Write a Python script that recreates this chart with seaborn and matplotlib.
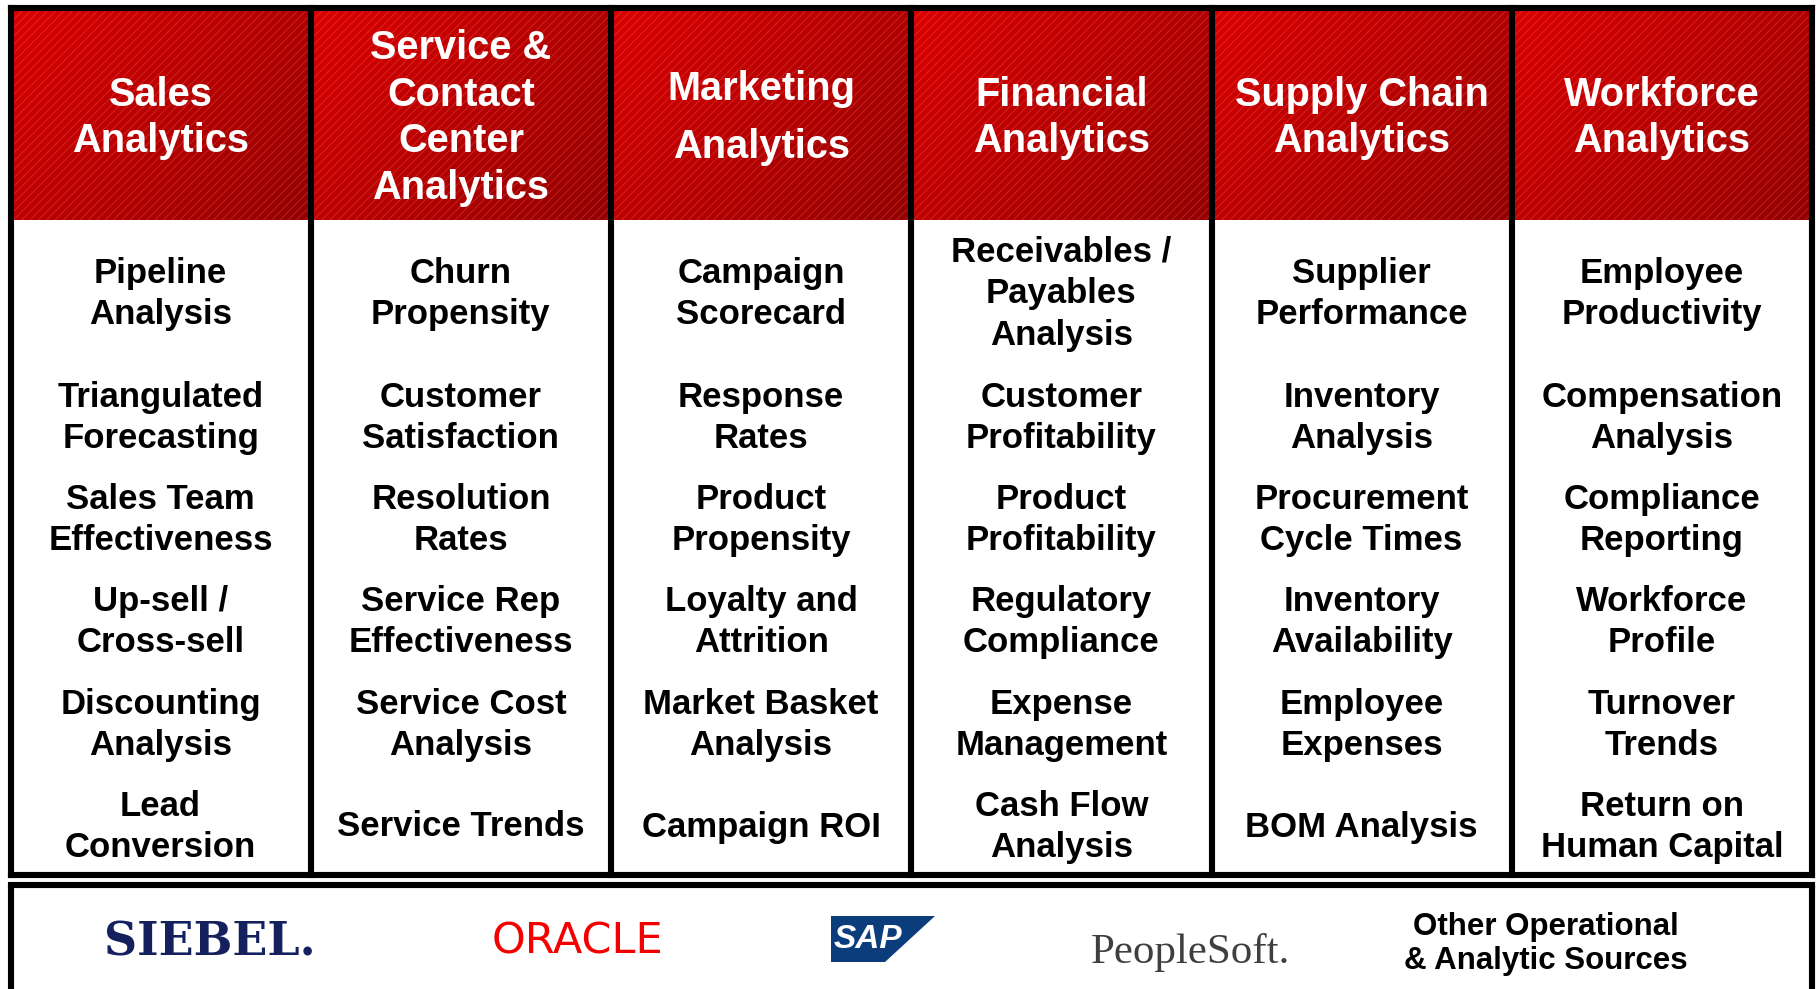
import numpy as np
import matplotlib
matplotlib.use("Agg")
import matplotlib.pyplot as plt
from matplotlib.patches import Rectangle, Polygon
import seaborn as sns

# ---------------- data ----------------
headers = ["Sales\nAnalytics", "Service &\nContact\nCenter\nAnalytics", "Marketing\nAnalytics",
           "Financial\nAnalytics", "Supply Chain\nAnalytics", "Workforce\nAnalytics"]

sales_items = ["Pipeline\nAnalysis", "Triangulated\nForecasting", "Sales Team\nEffectiveness",
               "Up-sell /\nCross-sell", "Discounting\nAnalysis", "Lead\nConversion"]
service_items = ["Churn\nPropensity", "Customer\nSatisfaction", "Resolution\nRates",
                 "Service Rep\nEffectiveness", "Service Cost\nAnalysis", "Service Trends"]
marketing_items = ["Campaign\nScorecard", "Response\nRates", "Product\nPropensity",
                   "Loyalty and\nAttrition", "Market Basket\nAnalysis", "Campaign ROI"]
financial_items = ["Receivables /\nPayables\nAnalysis", "Customer\nProfitability", "Product\nProfitability",
                   "Regulatory\nCompliance", "Expense\nManagement", "Cash Flow\nAnalysis"]
supply_items = ["Supplier\nPerformance", "Inventory\nAnalysis", "Procurement\nCycle Times",
                "Inventory\nAvailability", "Employee\nExpenses", "BOM Analysis"]
workforce_items = ["Employee\nProductivity", "Compensation\nAnalysis", "Compliance\nReporting",
                   "Workforce\nProfile", "Turnover\nTrends", "Return on\nHuman Capital"]

sources = ["SIEBEL.", "ORACLE", "SAP", "PeopleSoft.", "Other Operational\n& Analytic Sources"]

columns = [sales_items, service_items, marketing_items, financial_items, supply_items, workforce_items]

# ---------------- style ----------------
sns.set_theme(style="white")
plt.rcParams['font.family'] = ['Liberation Sans', 'DejaVu Sans']
plt.rcParams['hatch.linewidth'] = 0.6

W, H = 1816, 989
fig = plt.figure(figsize=(W / 100, H / 100), dpi=100)
ax = fig.add_axes([0, 0, 1, 1])

left, right = 10.5, 1812.0
top, head_bot, bot = 8.0, 220.0, 874.5
ncol = len(headers)
cw = (right - left) / ncol
row_y = [294, 418, 520, 622, 725, 827]
header_ls = [1.28, 1.28, 1.68, 1.28, 1.28, 1.28]
border_lw = 4.4

cmap = sns.blend_palette(["#dc0000", "#b80000", "#930000"], as_cmap=True)
gx, gy = np.meshgrid(np.linspace(0, 1, 200), np.linspace(0, 1, 120))
grad = gx * 0.6 + gy * 0.4

for i, h in enumerate(headers):
    x0 = left + i * cw
    ax.imshow(grad, cmap=cmap, extent=(x0, x0 + cw, head_bot, top), aspect='auto',
              interpolation='bilinear', origin='upper', zorder=1)
    ax.add_patch(Rectangle((x0, top), cw, head_bot - top, fill=False, hatch='////',
                           edgecolor='#ff9a9a', linewidth=0, alpha=0.28, zorder=2))
    ax.text(x0 + cw / 2, 118, h, ha='center', va='center', color='white',
            fontsize=28.6, fontweight='bold', linespacing=header_ls[i], zorder=5)
    for j, item in enumerate(columns[i]):
        ax.text(x0 + cw / 2, row_y[j], item, ha='center', va='center', color='black',
                fontsize=25, fontweight='bold', linespacing=1.34, zorder=5)

# borders
for i in range(ncol + 1):
    x = left + i * cw
    ax.plot([x, x], [top, bot], color='black', lw=border_lw, solid_capstyle='projecting', zorder=6)
ax.plot([left, right], [top, top], color='black', lw=border_lw, solid_capstyle='projecting', zorder=6)
ax.plot([left, right], [bot, bot], color='black', lw=border_lw, solid_capstyle='projecting', zorder=6)

# bottom sources box
ax.plot([left, left], [885, 1000], color='black', lw=border_lw, zorder=6)
ax.plot([right, right], [885, 1000], color='black', lw=border_lw, zorder=6)
ax.plot([left, right], [885, 885], color='black', lw=border_lw, solid_capstyle='projecting', zorder=6)

# SIEBEL
ax.text(210, 942, sources[0], ha='center', va='center', color='#15205e', fontsize=33,
        fontweight='heavy', family=['DejaVu Serif', 'DejaVu Sans'], zorder=5)
# ORACLE
ax.text(577, 942, sources[1], ha='center', va='center', color='#f50000', fontsize=31,
        fontweight='normal', family=['DejaVu Sans'], zorder=5)
# SAP
ax.add_patch(Polygon([(831, 916), (935, 916), (885, 962), (831, 962)], closed=True,
                     facecolor='#0b3c7c', edgecolor='none', zorder=4))
ax.text(868, 940, sources[2], ha='center', va='center', color='white', fontsize=24,
        fontweight='bold', style='italic', zorder=5)
# PeopleSoft
ax.text(1190, 952, sources[3], ha='center', va='center', color='#3f3f3f', fontsize=31,
        family=['Liberation Serif', 'DejaVu Serif'], zorder=5)
# Other
ax.text(1546, 944, sources[4], ha='center', va='center', color='black', fontsize=22.5,
        fontweight='bold', linespacing=1.18, zorder=5)

ax.set_xlim(0, W)
ax.set_ylim(H, 0)
ax.axis('off')
fig.savefig("out.png", dpi=100, facecolor='white')
